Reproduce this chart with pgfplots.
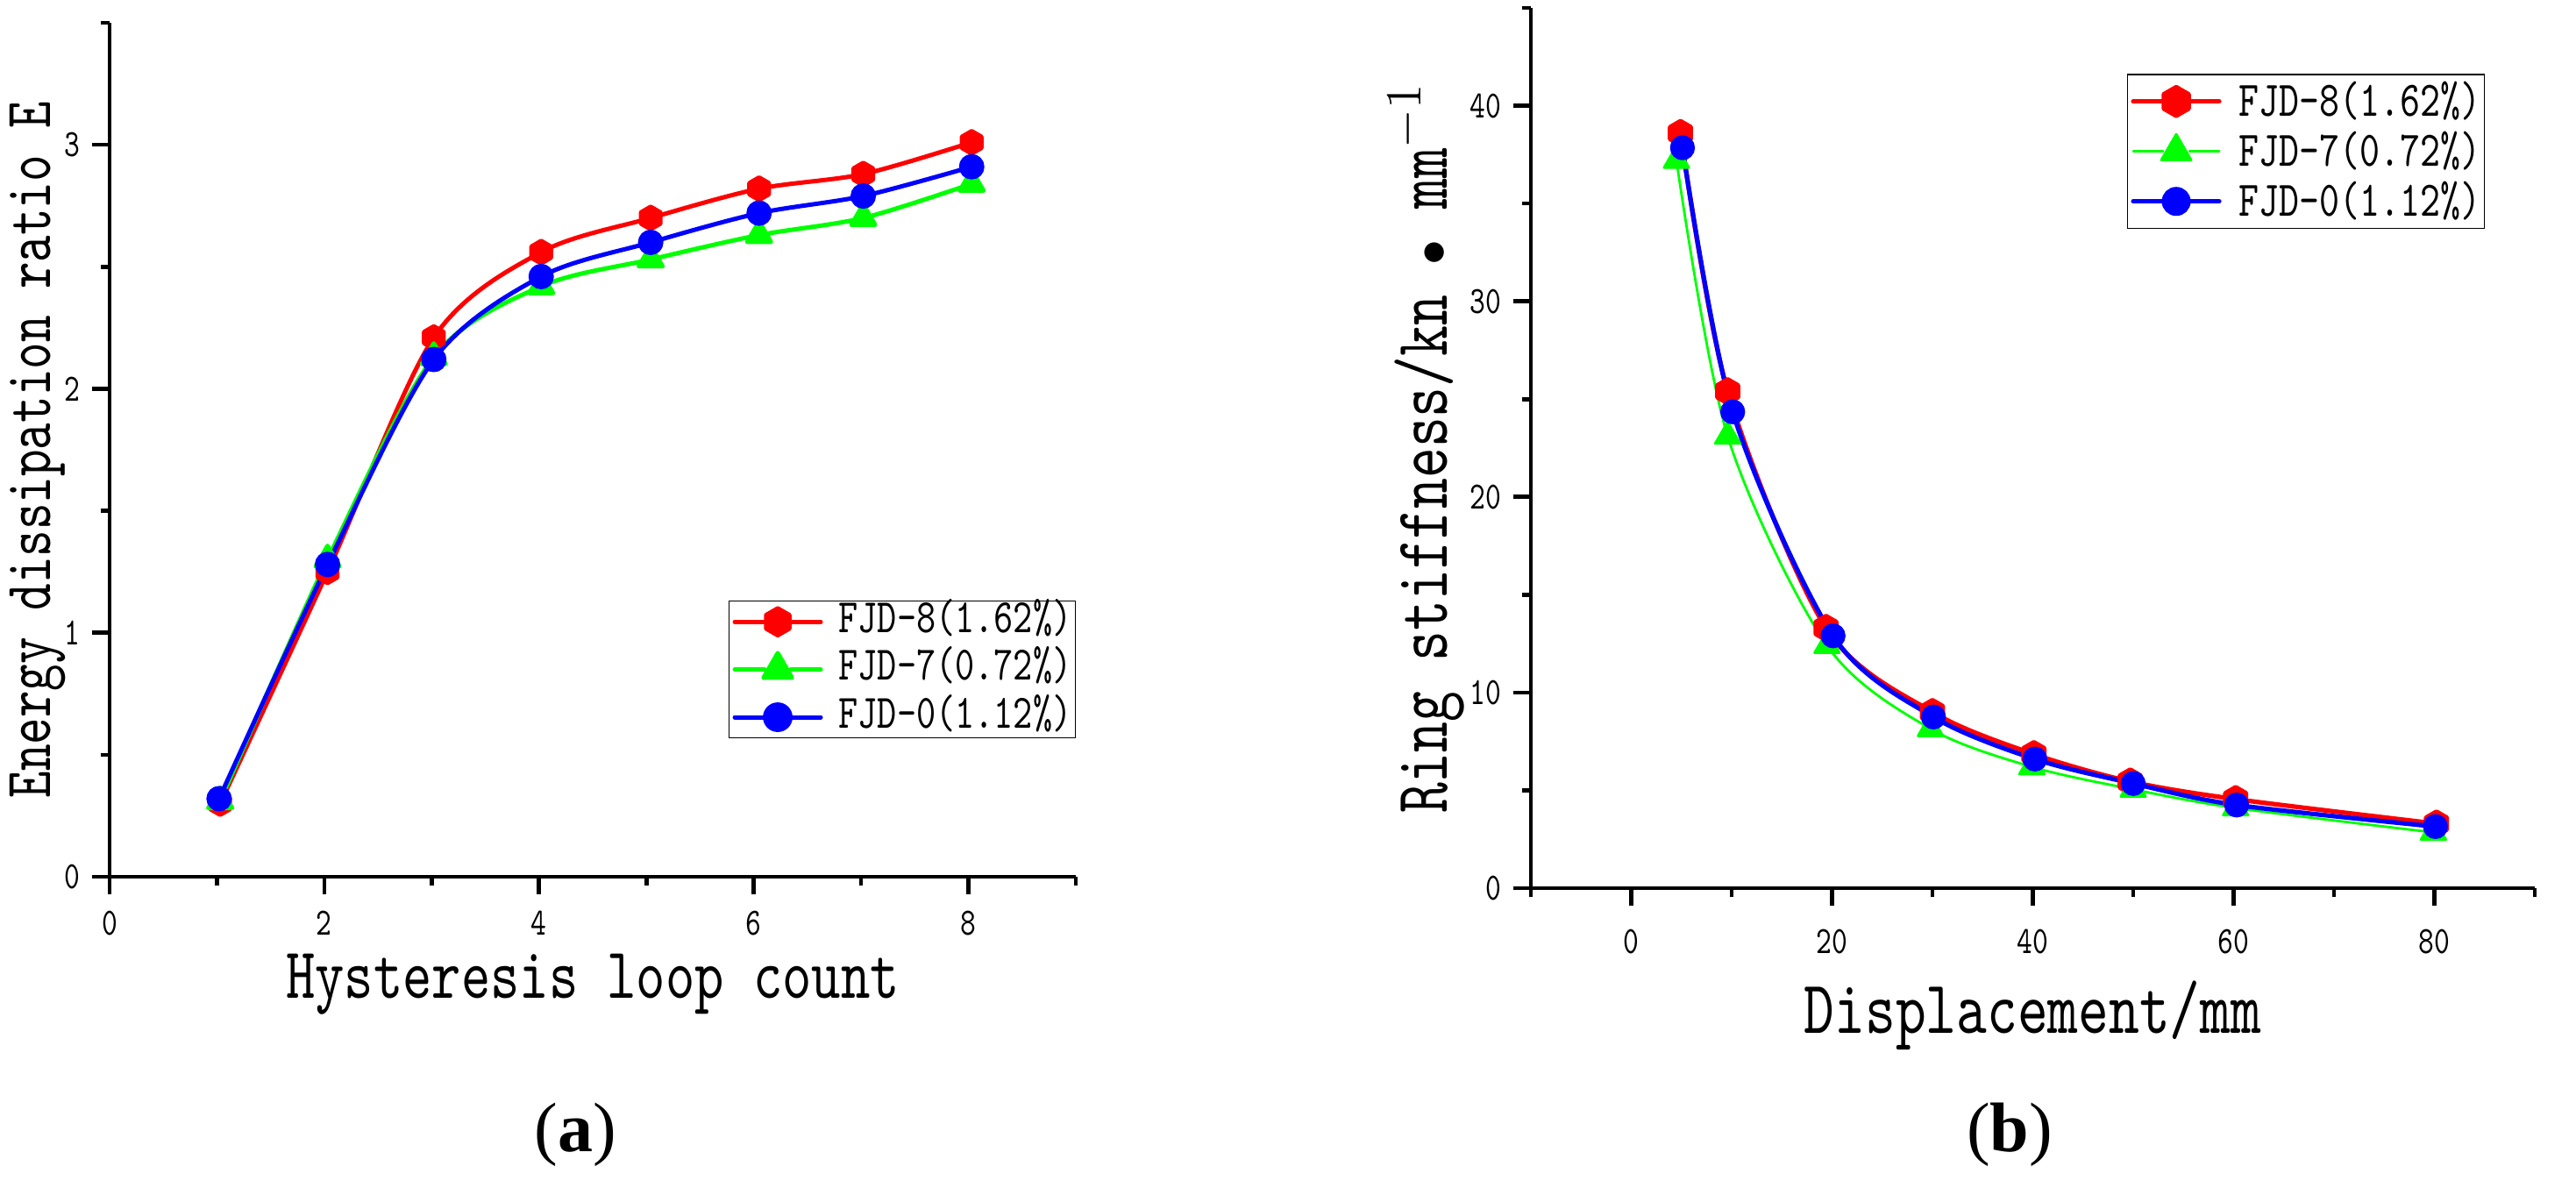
\documentclass[border=0pt]{standalone}
\usepackage{pgfplots}
\pgfplotsset{compat=1.18}
\usepackage{fontspec}
\setmainfont{Liberation Serif}
\newfontfamily\simfont{lmmono10-regular.otf}[FakeStretch=0.77]
\definecolor{cR}{RGB}{255,0,0}
\definecolor{cG}{RGB}{0,255,0}
\definecolor{cB}{RGB}{0,0,255}

\pgfdeclareplotmark{hexagon*}{%
  \pgfpathmoveto{\pgfpointpolar{90}{\pgfplotmarksize}}%
  \pgfpathlineto{\pgfpointpolar{150}{\pgfplotmarksize}}%
  \pgfpathlineto{\pgfpointpolar{210}{\pgfplotmarksize}}%
  \pgfpathlineto{\pgfpointpolar{270}{\pgfplotmarksize}}%
  \pgfpathlineto{\pgfpointpolar{330}{\pgfplotmarksize}}%
  \pgfpathlineto{\pgfpointpolar{30}{\pgfplotmarksize}}%
  \pgfpathclose
  \pgfusepathqfillstroke}

\pgfplotstableread{
x y
1.03 0.30
2.03 1.25
3.02 2.21
4.02 2.56
5.04 2.70
6.05 2.82
7.02 2.88
8.03 3.01
}\aR
\pgfplotstableread{
x y
1.03 0.31
2.03 1.30
3.02 2.13
4.02 2.42
5.04 2.53
6.05 2.63
7.02 2.70
8.03 2.84
}\aG
\pgfplotstableread{
x y
1.02 0.32
2.03 1.28
3.02 2.12
4.02 2.46
5.04 2.60
6.05 2.72
7.02 2.79
8.03 2.91
}\aB
\pgfplotstableread{
x y
4.9 38.6
9.6 25.4
19.4 13.3
30.0 9.0
40.1 6.85
49.7 5.45
60.2 4.55
80.2 3.3
}\bR
\pgfplotstableread{
x y
4.5 37.2
9.6 23.1
19.5 12.4
29.8 8.15
39.9 6.2
50.0 5.05
60.2 4.1
79.9 2.85
}\bG
\pgfplotstableread{
x y
5.1 37.85
10.1 24.35
20.1 12.9
30.1 8.75
40.2 6.6
50.0 5.35
60.3 4.25
80.1 3.15
}\bB

\pgfplotsset{
  myaxis/.style={
    scale only axis,
    axis lines=left,
    axis line style={line width=1.15pt,-},
    tick style={line width=1.15pt,black},
    tick align=outside,
    major tick length=5pt,
    minor tick length=2.6pt,
    /pgf/number format/assume math mode=true,
    tick label style={font=\simfont\fontsize{11}{11}\selectfont},
    clip=false,
    legend cell align=left,
    every axis plot/.append style={line cap=round, line join=round, smooth},
    legend image code/.code={%
      \draw[##1,mark=none] (0pt,0pt) -- (8.5pt,0pt);
      \draw[##1,mark=none] (16pt,0pt) -- (24.5pt,0pt);
      \draw[##1,every mark/.append style={scale=1.2}] plot coordinates {(12.25pt,0pt)};
    },
  },
}

\begin{document}
\begin{tikzpicture}
\useasboundingbox (0,0) rectangle (734.5pt,338.5pt);

% ---------------- (a) ----------------
\begin{axis}[myaxis,
  at={(31.25pt,88.5pt)}, anchor=south west,
  width=275.5pt, height=243.5pt,
  xmin=0, xmax=9, ymin=0, ymax=3.5,
  xtick={0,2,4,6,8}, minor xtick={1,3,5,7,9},
  ytick={0,1,2,3}, minor ytick={0.5,1.5,2.5,3.5},
  xticklabel style={inner sep=0pt, yshift=-4.5pt},
  xlabel={Hysteresis loop count},
  ylabel={Energy dissipation ratio E},
  xlabel style={font=\simfont\fontsize{20.6}{20.6}\selectfont, inner sep=0pt, at={(axis description cs:0.5,-0.142)}, anchor=base},
  ylabel style={font=\simfont\fontsize{18.9}{18.9}\selectfont, inner sep=0pt, at={(axis description cs:-0.0617,0.5)}, anchor=base},
  legend style={draw=black, line width=0.3pt, fill=white,
    at={(axis description cs:1,0.3234)}, anchor=north east,
    inner xsep=1pt, inner ysep=0.3pt, row sep=2.4pt,
    font=\simfont\fontsize{13.7}{13.7}\selectfont,
    nodes={inner sep=0pt, text height=8.6pt, text depth=2.6pt},
    /tikz/every odd column/.append style={column sep=4.5pt}},
]
\addplot[cR, line width=1.25pt, mark=hexagon*, mark size=3.2pt, mark options={fill=cR, draw=cR}] table {\aR};
\addlegendentry{FJD-8(1.62\%)}
\addplot[cG, line width=1.25pt, mark=triangle*, mark size=3.9pt, mark options={fill=cG, draw=cG}] table {\aG};
\addlegendentry{FJD-7(0.72\%)}
\addplot[cB, line width=1.25pt, mark=*, mark size=3.0pt, mark options={fill=cB, draw=cB}] table {\aB};
\addlegendentry{FJD-0(1.12\%)}
\end{axis}

% ---------------- (b) ----------------
\begin{axis}[myaxis,
  at={(436.5pt,85.25pt)}, anchor=south west,
  width=286.25pt, height=251pt,
  xmin=-10, xmax=90, ymin=0, ymax=45,
  xtick={0,20,40,60,80}, minor xtick={-10,10,30,50,70,90},
  ytick={0,10,20,30,40}, minor ytick={5,15,25,35,45},
  xticklabel style={inner sep=0pt, yshift=-6.5pt},
  xlabel={Displacement/mm},
  ylabel={Ring stiffness/kn {\fontsize{15}{15}\selectfont$\bullet$} mm$^{-1}$},
  xlabel style={font=\simfont\fontsize{21.5}{21.5}\selectfont, inner sep=0pt, at={(axis description cs:0.5,-0.165)}, anchor=base},
  ylabel style={font=\simfont\fontsize{21.5}{21.5}\selectfont, inner sep=0pt, at={(axis description cs:-0.083,0.5)}, anchor=base},
  legend style={draw=black, line width=0.3pt, fill=white,
    at={(axis description cs:0.950,0.925)}, anchor=north east,
    inner xsep=1pt, inner ysep=1.2pt, row sep=1.25pt,
    font=\simfont\fontsize{14.2}{14.2}\selectfont,
    nodes={inner sep=0pt, text height=10.6pt, text depth=2.4pt},
    /tikz/every odd column/.append style={column sep=5pt}},
]
\addplot[cR, line width=1.3pt, mark=hexagon*, mark size=3.4pt, mark options={fill=cR, draw=cR}] table {\bR};
\addlegendentry{FJD-8(1.62\%)}
\addplot[cG, line width=0.7pt, mark=triangle*, mark size=4.1pt, mark options={fill=cG, draw=cG}] table {\bG};
\addlegendentry{FJD-7(0.72\%)}
\addplot[cB, line width=1.3pt, mark=*, mark size=2.9pt, mark options={fill=cB, draw=cB}] table {\bB};
\addlegendentry{FJD-0(1.12\%)}
\end{axis}

\node[font=\fontsize{20}{20}\selectfont] at (164pt,15pt) {(\textbf{a})};
\node[font=\fontsize{20}{20}\selectfont] at (573pt,15pt) {(\textbf{b})};
\end{tikzpicture}
\end{document}
